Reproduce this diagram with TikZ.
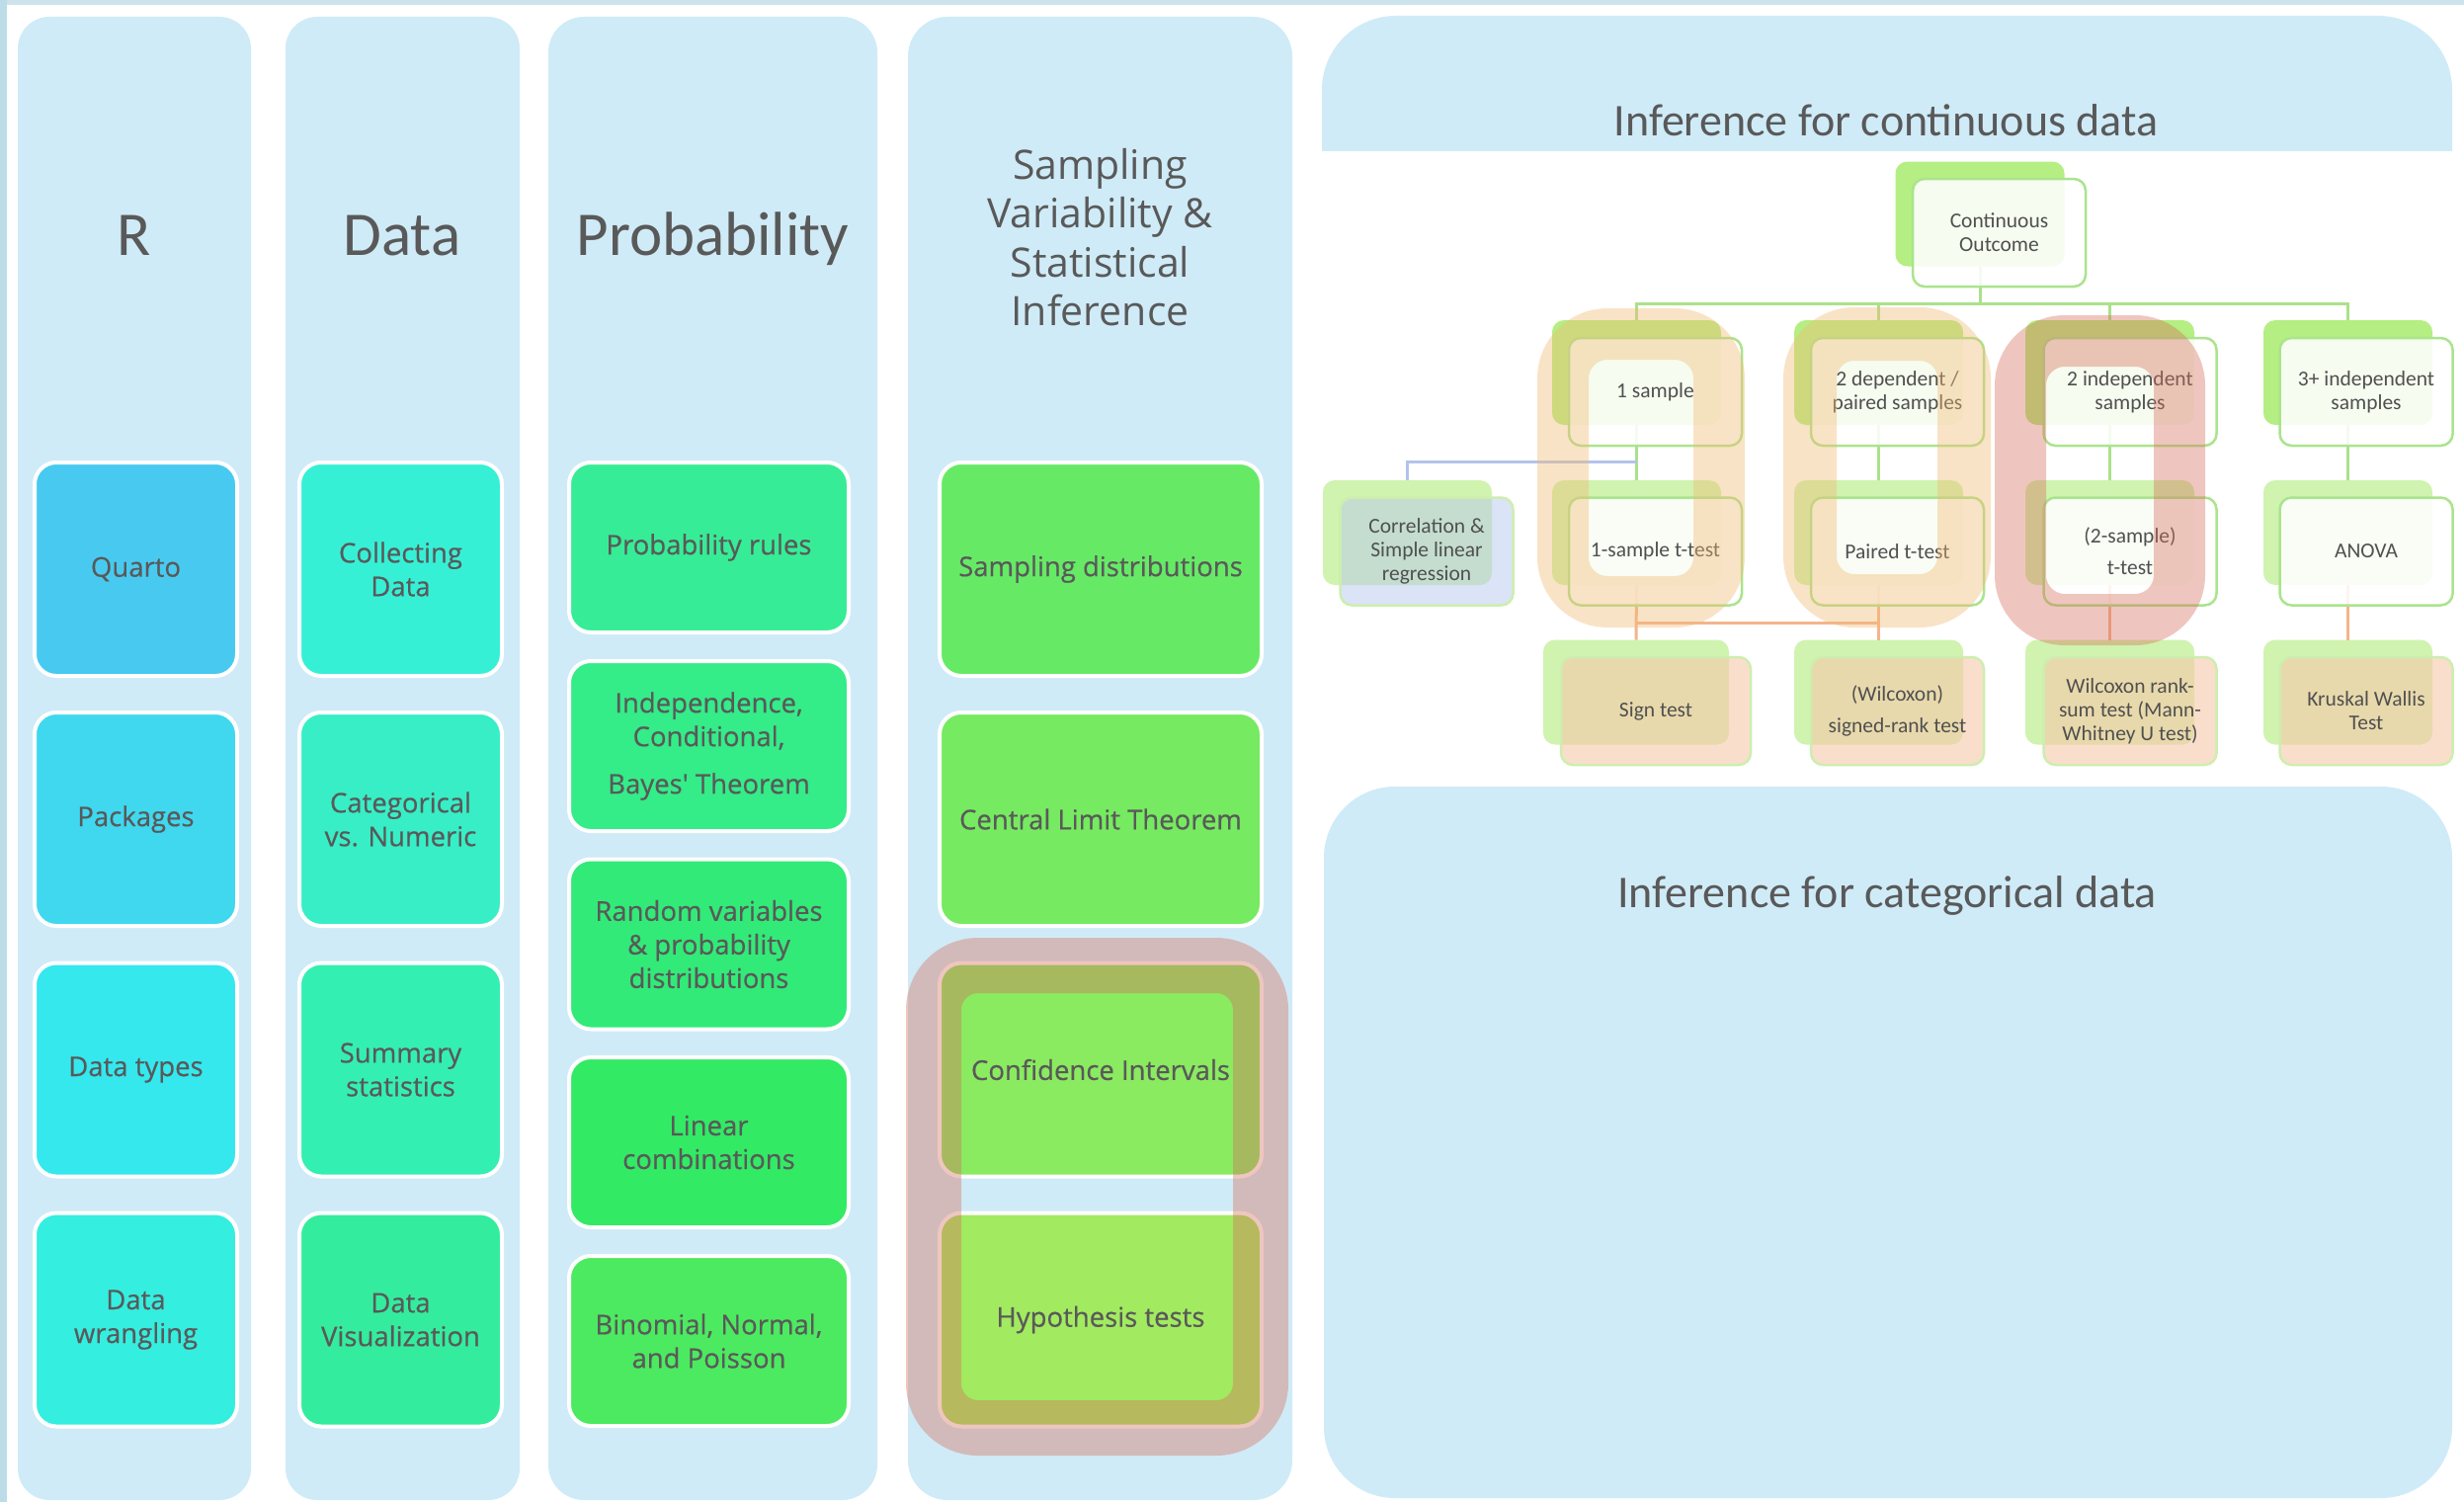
\documentclass[tikz,border=0pt]{standalone}
\usepackage{fontspec}
\setmainfont{Carlito}
\newfontfamily\boxfont{Open Sans}[FakeBold=0.45]
\newfontfamily\titlefont{Open Sans}
\usetikzlibrary{calc}
\definecolor{colbg}{RGB}{207,235,247}
\definecolor{txt}{RGB}{89,89,89}
\definecolor{frameL}{RGB}{188,221,231}
\definecolor{frameT}{RGB}{205,228,236}
\definecolor{cQuarto}{RGB}{72,202,240}
\definecolor{cPackages}{RGB}{63,216,239}
\definecolor{cTypes}{RGB}{52,232,238}
\definecolor{cWrang}{RGB}{52,238,224}
\definecolor{cCollect}{RGB}{54,240,214}
\definecolor{cCateg}{RGB}{55,238,198}
\definecolor{cSumm}{RGB}{52,239,178}
\definecolor{cVis}{RGB}{52,236,158}
\definecolor{cPRules}{RGB}{55,236,150}
\definecolor{cIndep}{RGB}{52,236,136}
\definecolor{cRandom}{RGB}{50,234,120}
\definecolor{cLinear}{RGB}{50,234,100}
\definecolor{cBinom}{RGB}{76,234,96}
\definecolor{cSampD}{RGB}{102,234,102}
\definecolor{cCLT}{RGB}{118,234,96}
\definecolor{cCI}{RGB}{138,234,96}
\definecolor{cHyp}{RGB}{162,234,96}
\definecolor{tgreen}{RGB}{181,238,130}
\definecolor{tpale}{RGB}{208,243,175}
\definecolor{tborder}{RGB}{170,228,140}
\definecolor{tborderB}{RGB}{205,238,175}
\definecolor{peachfill}{RGB}{248,200,170}
\definecolor{lavfill}{RGB}{185,200,240}
\definecolor{glinec}{RGB}{170,225,140}
\definecolor{olinec}{RGB}{245,180,140}
\definecolor{blinec}{RGB}{180,195,235}
\definecolor{hlpeach}{RGB}{242,187,117}
\definecolor{hlred}{RGB}{215,110,91}
\definecolor{ttxt}{RGB}{80,80,80}
\tikzset{
  cbox/.style={draw=white, line width=4pt, rounded corners=22pt, inner sep=0pt, outer sep=0pt,
    text=txt, font=\boxfont\fontsize{27.5}{34}\selectfont, align=center},
  rsbox/.style={cbox, minimum width=205pt, minimum height=216pt},
  pbox/.style={cbox, minimum width=283pt, minimum height=172pt},
  sbox/.style={cbox, minimum width=326pt, minimum height=216pt},
  coltitle/.style={text=txt, font=\fontsize{63}{75}\selectfont, anchor=base, inner sep=0pt},
  paneltitle/.style={text=txt, font=\fontsize{46}{55}\selectfont, anchor=base, inner sep=0pt},
  tbackA/.style={fill=tgreen, rounded corners=12pt, inner sep=0pt, outer sep=0pt, minimum width=171pt, minimum height=106pt},
  tbackB/.style={tbackA, fill=tpale},
  tfront/.style={draw=tborder, line width=2.5pt, fill=white, fill opacity=0.88, text opacity=1,
    rounded corners=12pt, inner sep=0pt, outer sep=0pt, minimum width=175pt, minimum height=109pt,
    font=\fontsize{21.5}{24}\selectfont, text=ttxt, align=center},
  tfrontC/.style={tfront, draw=tborderB, fill=peachfill, fill opacity=0.6},
  tfrontL/.style={tfront, draw=tborderB, fill=lavfill, fill opacity=0.5},
  gline/.style={draw=glinec, line width=3pt},
  oline/.style={draw=olinec, line width=3pt},
  bline/.style={draw=blinec, line width=3pt},
  hlP/.style={draw=hlpeach, draw opacity=0.4, rounded corners=45pt, line join=round},
  hlR/.style={draw=hlred, draw opacity=0.39, rounded corners=45pt, line join=round},
}
\begin{document}
\begin{tikzpicture}[x=1pt,y=-1pt]
\useasboundingbox (0,0) rectangle (2494,1520);
\fill[white] (0,0) rectangle (2494,1520);
\fill[frameT] (0,0) rectangle (2494,5);
\fill[frameL] (0,0) rectangle (7,1520);

% column backgrounds
\fill[colbg, rounded corners=32pt] (18,17) rectangle (254,1518);
\fill[colbg, rounded corners=32pt] (289,17) rectangle (526,1518);
\fill[colbg, rounded corners=36pt] (555,17) rectangle (888,1518);
\fill[colbg, rounded corners=40pt] (919,17) rectangle (1308,1518);

% column titles
\node[coltitle] (tR) at (136,258) {R};
\node[coltitle] (tData) at (407,258) {Data};
\node[coltitle] (tProb) at (721.5,258) {Probability};
\node[text=txt, font=\titlefont\fontsize{41}{49.3}\selectfont, align=center, inner sep=0pt] (tSamp) at (1113.5,240)
  {Sampling\\Variability \&\\Statistical\\Inference};

% R column
\node[rsbox, fill=cQuarto] (quarto) at (137.5,576) {Quarto};
\node[rsbox, fill=cPackages] (packages) at (137.5,829) {Packages};
\node[rsbox, fill=cTypes] (dtypes) at (137.5,1082.5) {Data types};
\node[rsbox, fill=cWrang] (wrang) at (137.5,1335.5) {Data\\wrangling};

% Data column
\node[rsbox, fill=cCollect] (collect) at (405.5,576) {Collecting\\Data};
\node[rsbox, fill=cCateg] (categ) at (405.5,829) {Categorical\\vs. Numeric};
\node[rsbox, fill=cSumm] (summ) at (405.5,1082.5) {Summary\\statistics};
\node[rsbox, fill=cVis] (vis) at (405.5,1335.5) {Data\\Visualization};

% Probability column
\node[pbox, fill=cPRules] (prules) at (717.5,554) {Probability rules};
\node[pbox, fill=cIndep] (indep) at (717.5,755) {Independence,\\Conditional,\\[14pt]Bayes' Theorem};
\node[pbox, fill=cRandom] (randv) at (717.5,955.5) {Random variables\\\& probability\\distributions};
\node[pbox, fill=cLinear] (linc) at (717.5,1156) {Linear\\combinations};
\node[pbox, fill=cBinom] (binom) at (717.5,1357) {Binomial, Normal,\\and Poisson};

% Sampling column
\node[sbox, fill=cSampD] (sampd) at (1114,576) {Sampling distributions};
\node[sbox, fill=cCLT] (clt) at (1114,829) {Central Limit Theorem};
\node[sbox, fill=cCI] (ci) at (1114,1082.5) {Confidence Intervals};
\node[sbox, fill=cHyp] (hyp) at (1114,1335.5) {Hypothesis tests};

% highlight around CI and hypothesis tests
\draw[hlR, line width=56pt] (945,977) rectangle (1276,1445);

% right panels
\begin{scope}
  \clip (1330,0) rectangle (2494,152);
  \fill[colbg, rounded corners=75pt] (1338,16) rectangle (2482,320);
\end{scope}
\node[paneltitle] (contTitle) at (1909,137) {Inference for continuous data};
\fill[colbg, rounded corners=72pt] (1340,796) rectangle (2482,1516);
\node[paneltitle] (catTitle) at (1910,918) {Inference for categorical data};

% tree: junction coordinates
\coordinate (bus) at (2004,307);
\coordinate (bj) at (1656.5,467);
\coordinate (oj) at (1656.5,630);

% back boxes
\node[tbackA] (cob) at (2004,216.5) {};
\node[tbackA] (s1b) at (1656.5,377) {};
\node[tbackA] (s2b) at (1901.5,377) {};
\node[tbackA] (s3b) at (2135.5,377) {};
\node[tbackA] (s4b) at (2376.5,377) {};
\node[tbackB] (corrb) at (1424.5,539) {};
\node[tbackB] (t1b) at (1656.5,539) {};
\node[tbackB] (t2b) at (1901.5,539) {};
\node[tbackB] (t3b) at (2135.5,539) {};
\node[tbackB] (t4b) at (2376.5,539) {};
\node[tbackB, minimum width=188pt] (u1b) at (1656,700.5) {};
\node[tbackB] (u2b) at (1901.5,700.5) {};
\node[tbackB] (u3b) at (2135.5,700.5) {};
\node[tbackB] (u4b) at (2376.5,700.5) {};

% connectors (between the back boxes and the translucent front boxes)
\draw[gline] (cob.south) -- (bus);
\draw[gline] (s1b.north) |- (bus) -| (s4b.north);
\draw[gline] (s2b.north) -- (s2b.north |- bus);
\draw[gline] (s3b.north) -- (s3b.north |- bus);
\draw[gline] (s1b.south) -- (t1b.north);
\draw[gline] (s2b.south) -- (t2b.north);
\draw[gline] (s3b.south) -- (t3b.north);
\draw[gline] (s4b.south) -- (t4b.north);
\draw[bline] (bj) -| (corrb.north);
\draw[oline] (t1b.south) -- (u1b.north);
\draw[oline] (t2b.south) -- (u2b.north);
\draw[oline] (t3b.south) -- (u3b.north);
\draw[oline] (t4b.south) -- (u4b.north);
\draw[oline] (oj) -- (oj -| t2b.south);

% front boxes
\node[tfront] (co) at (2023.5,235.5) {Continuous\\Outcome};
\node[tfront] (s1) at (1675.5,396.5) {1 sample};
\node[tfront] (s2) at (1920.5,396.5) {2 dependent /\\paired samples};
\node[tfront] (s3) at (2156,396.5) {2 independent\\samples};
\node[tfront] (s4) at (2395,396.5) {3+ independent\\samples};
\node[tfrontL] (corr) at (1444,558) {Correlation \&\\Simple linear\\regression};
\node[tfront] (t1) at (1675.5,558) {1-sample t-test};
\node[tfront] (t2) at (1920.5,558) {Paired t-test};
\node[tfront] (t3) at (2156,558) {(2-sample)\\[8pt]t-test};
\node[tfront] (t4) at (2395,558) {ANOVA};
\node[tfrontC, minimum width=192pt] (u1) at (1676,719.5) {Sign test};
\node[tfrontC] (u2) at (1920.5,719.5) {(Wilcoxon)\\[8pt]signed-rank test};
\node[tfrontC] (u3) at (2156,719.5) {Wilcoxon rank-\\sum test (Mann-\\Whitney U test)};
\node[tfrontC] (u4) at (2395,719.5) {Kruskal Wallis\\Test};

% highlights in tree
\draw[hlP, line width=52pt] (1582,338) rectangle (1740,609);
\draw[hlP, line width=54pt] (1832,338) rectangle (1988,608);
\draw[hlR, line width=52pt] (2045,345) rectangle (2206,627);
\end{tikzpicture}
\end{document}
